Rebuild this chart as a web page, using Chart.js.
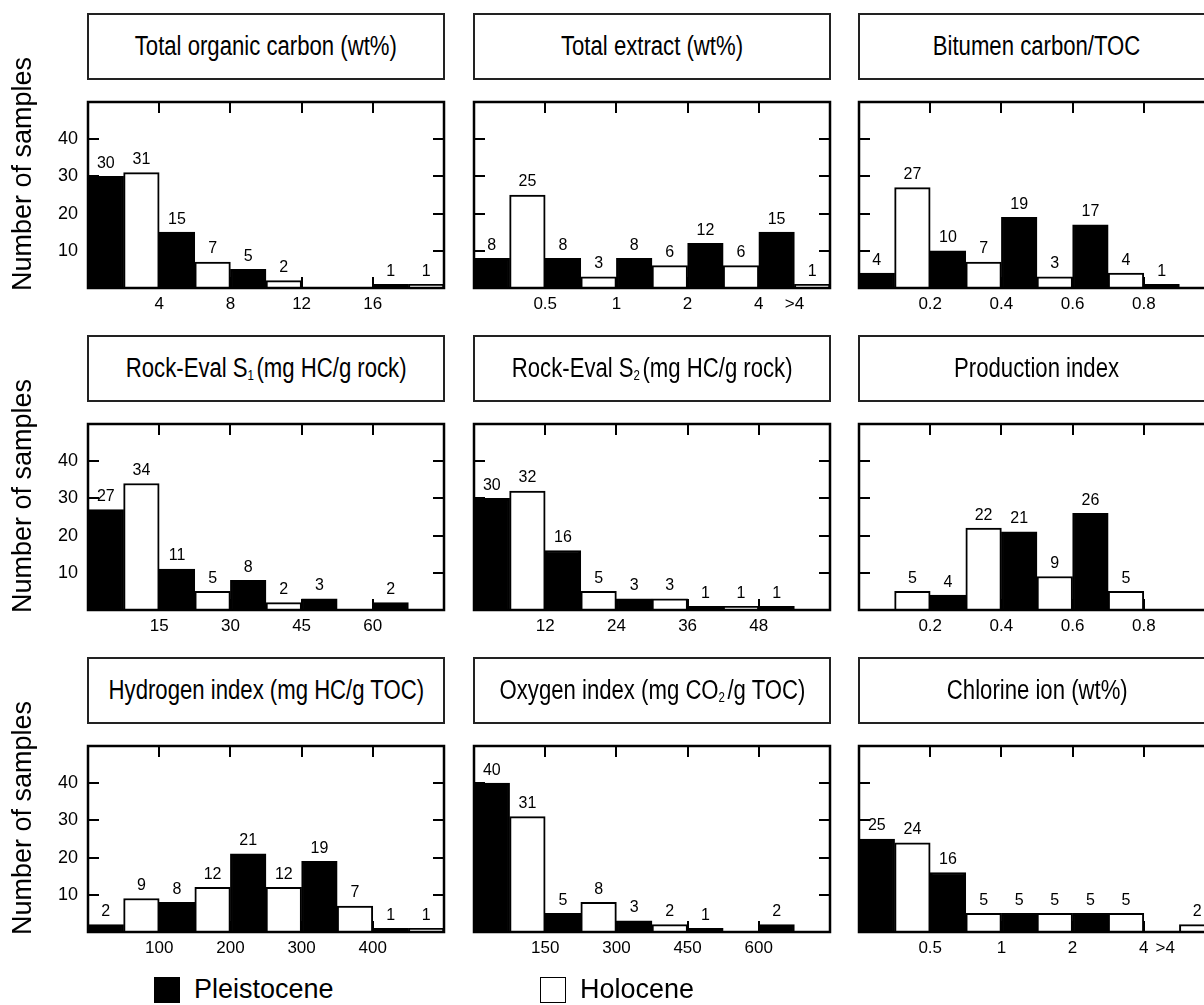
<!DOCTYPE html>
<html>
<head>
<meta charset="utf-8">
<script src="https://cdn.jsdelivr.net/npm/chart.js@4.4.1/dist/chart.umd.min.js"></script>
<style>
  html, body { margin: 0; padding: 0; background: #fff; }
  body { width: 1204px; height: 1005px; overflow: hidden; position: relative; font-family: 'Liberation Sans', Arial, sans-serif; }
  canvas { position: absolute; }
  .title-box {
    position: absolute; box-sizing: border-box; border: 2px solid #222;
    display: flex; align-items: center; justify-content: center;
    font-size: 27px; white-space: nowrap;
  }
  /* no narrow face installed, so squeeze the regular one */
  .title-box span { display: inline-block; transform: scaleX(0.82); }
  .title-box sub { font-size: 14px; vertical-align: -3px; margin-right: 3px; }
  .ylabel {
    position: absolute; font-size: 27px; white-space: nowrap;
    transform: translate(-50%, -50%) rotate(-90deg);
  }
  .legend { position: absolute; top: 974px; display: flex; align-items: center; font-size: 27px; }
  .legend span.box { width: 26px; height: 26px; box-sizing: border-box; border: 1.5px solid #000; margin-right: 14px; }
</style>
</head>
<body>
<script>
// counts per class interval, left bar = Pleistocene, right bar = Holocene
const tocPleistocene = [30, 15, 5, 0, 1];
const tocHolocene = [31, 7, 2, 0, 1];
const tocTicks = ['4', '8', '12', '16'];

const extractPleistocene = [8, 8, 8, 12, 15];
const extractHolocene = [25, 3, 6, 6, 1];
const extractTicks = ['0.5', '1', '2', '4', '>4'];

const bitumenPleistocene = [4, 10, 19, 17, 1];
const bitumenHolocene = [27, 7, 3, 4, 0];
const bitumenTicks = ['0.2', '0.4', '0.6', '0.8'];

const s1Pleistocene = [27, 11, 8, 3, 2];
const s1Holocene = [34, 5, 2, 0, 0];
const s1Ticks = ['15', '30', '45', '60'];

const s2Pleistocene = [30, 16, 3, 1, 1];
const s2Holocene = [32, 5, 3, 1, 0];
const s2Ticks = ['12', '24', '36', '48'];

const piPleistocene = [0, 4, 21, 26, 0];
const piHolocene = [5, 22, 9, 5, 0];
const piTicks = ['0.2', '0.4', '0.6', '0.8'];

const hiPleistocene = [2, 8, 21, 19, 1];
const hiHolocene = [9, 12, 12, 7, 1];
const hiTicks = ['100', '200', '300', '400'];

const oiPleistocene = [40, 5, 3, 1, 2];
const oiHolocene = [31, 8, 2, 0, 0];
const oiTicks = ['150', '300', '450', '600'];

const clPleistocene = [25, 16, 5, 5, 0];
const clHolocene = [24, 5, 5, 5, 2];
const clTicks = ['0.5', '1', '2', '4', '>4'];

const Y_TICKS = [10, 20, 30, 40];
const X_MARKS = [2, 4, 6, 8];   // class boundaries, in bar units

const PANELS = [
    { title: 'Total organic carbon (wt%)', p: tocPleistocene, h: tocHolocene, ticks: tocTicks, pos: [2, 4, 6, 8] },
    { title: 'Total extract (wt%)', p: extractPleistocene, h: extractHolocene, ticks: extractTicks, pos: [2, 4, 6, 8, 9] },
    { title: 'Bitumen carbon/TOC', p: bitumenPleistocene, h: bitumenHolocene, ticks: bitumenTicks, pos: [2, 4, 6, 8] },
    { title: 'Rock-Eval S<sub>1</sub>(mg HC/g rock)', p: s1Pleistocene, h: s1Holocene, ticks: s1Ticks, pos: [2, 4, 6, 8] },
    { title: 'Rock-Eval S<sub>2</sub>(mg HC/g rock)', p: s2Pleistocene, h: s2Holocene, ticks: s2Ticks, pos: [2, 4, 6, 8] },
    { title: 'Production index', p: piPleistocene, h: piHolocene, ticks: piTicks, pos: [2, 4, 6, 8] },
    { title: 'Hydrogen index (mg HC/g TOC)', p: hiPleistocene, h: hiHolocene, ticks: hiTicks, pos: [2, 4, 6, 8] },
    { title: 'Oxygen index (mg CO<sub>2</sub>/g TOC)', p: oiPleistocene, h: oiHolocene, ticks: oiTicks, pos: [2, 4, 6, 8] },
    { title: 'Chlorine ion (wt%)', p: clPleistocene, h: clHolocene, ticks: clTicks, pos: [2, 4, 6, 8, 8.6] },
];

const COL_LEFT = [88, 474, 859];
const ROW_TOP = [102, 424, 746];
const PLOT_W = 356;
const PLOT_H = 186;
const PAD_L = 60, PAD_T = 10, PAD_R = 12, AXIS_H = 40;
const TICK = 11;
const NUM_FONT = 'Liberation Sans';

// frame, inward tick marks and the count above each bar
const framePlugin = {
    id: 'frame',
    afterDatasetsDraw(chart) {
        const { ctx, chartArea: a, scales } = chart;
        const x = scales.x, y = scales.y;
        ctx.save();
        ctx.strokeStyle = '#000';
        ctx.lineWidth = 2;
        ctx.beginPath();
        X_MARKS.forEach((v) => {
            const px = Math.round(x.getPixelForValue(v));
            ctx.moveTo(px, a.top); ctx.lineTo(px, a.top + TICK);
            ctx.moveTo(px, a.bottom); ctx.lineTo(px, a.bottom - TICK);
        });
        Y_TICKS.forEach((v) => {
            const py = Math.round(y.getPixelForValue(v));
            ctx.moveTo(a.left, py); ctx.lineTo(a.left + TICK, py);
            ctx.moveTo(a.right, py); ctx.lineTo(a.right - TICK, py);
        });
        ctx.stroke();
        ctx.lineWidth = 2.5;
        ctx.strokeRect(a.left, a.top, a.right - a.left, a.bottom - a.top);

        ctx.fillStyle = '#000';
        ctx.font = `16px "${NUM_FONT}"`;
        ctx.textAlign = 'center';
        ctx.textBaseline = 'bottom';
        chart.data.datasets.forEach((ds, d) => {
            chart.getDatasetMeta(d).data.forEach((el, i) => {
                const v = ds.data[i].y;
                if (!v) return;
                ctx.fillText(String(v), el.x, el.y - 5);
            });
        });
        ctx.restore();
    },
};

function barData(values, offset) {
    return values.map((v, k) => ({ x: 2 * k + offset, y: v > 0 ? v : null }));
}

function noPadding(s) {
    s.paddingLeft = 0; s.paddingRight = 0; s.paddingTop = 0; s.paddingBottom = 0;
}

PANELS.forEach((panel, n) => {
    const col = n % 3, row = Math.floor(n / 3);

    const box = document.createElement('div');
    box.className = 'title-box';
    box.style.left = (COL_LEFT[col] - 1) + 'px';
    box.style.top = (ROW_TOP[row] - 89) + 'px';
    box.style.width = (PLOT_W + 2) + 'px';
    box.style.height = '67px';
    box.innerHTML = `<span>${panel.title}</span>`;
    document.body.appendChild(box);

    const canvas = document.createElement('canvas');
    canvas.width = PAD_L + PLOT_W + PAD_R;
    canvas.height = PAD_T + PLOT_H + AXIS_H;
    canvas.style.left = (COL_LEFT[col] - PAD_L) + 'px';
    canvas.style.top = (ROW_TOP[row] - PAD_T) + 'px';
    document.body.appendChild(canvas);

    new Chart(canvas, {
        type: 'bar',
        data: {
            datasets: [
                {
                    label: 'Pleistocene',
                    data: barData(panel.p, 0.5),
                    backgroundColor: '#000',
                },
                {
                    label: 'Holocene',
                    data: barData(panel.h, 1.5),
                    backgroundColor: '#fff',
                },
            ],
        },
        options: {
            responsive: false,
            animation: false,
            devicePixelRatio: 1,
            layout: { padding: { top: PAD_T, right: PAD_R, left: 0, bottom: 0 } },
            datasets: {
                bar: {
                    grouped: false,
                    barPercentage: 1,
                    categoryPercentage: 1,
                    borderColor: '#000',
                    borderWidth: 2,
                },
            },
            plugins: { legend: { display: false }, tooltip: { enabled: false } },
            scales: {
                x: {
                    type: 'linear',
                    display: false,
                    offset: false,
                    min: 0,
                    max: 10,
                    ticks: { stepSize: 1 },
                },
                xl: {
                    type: 'linear',
                    position: 'bottom',
                    offset: false,
                    min: 0,
                    max: 10,
                    grid: { display: false, drawTicks: false, offset: false },
                    border: { display: false },
                    afterBuildTicks: (s) => { s.ticks = panel.pos.map((v) => ({ value: v })); },
                    afterFit: (s) => { s.height = AXIS_H; noPadding(s); },
                    ticks: {
                        autoSkip: false,
                        maxRotation: 0,
                        padding: 6,
                        color: '#000',
                        font: { family: NUM_FONT, size: 17 },
                        callback: (v, i) => panel.ticks[i],
                    },
                },
                y: {
                    min: 0,
                    max: 50,
                    grid: { display: false, drawTicks: false },
                    border: { display: false },
                    afterBuildTicks: (s) => { s.ticks = Y_TICKS.map((v) => ({ value: v })); },
                    afterFit: (s) => { s.width = PAD_L; noPadding(s); },
                    ticks: {
                        display: col === 0,
                        padding: 10,
                        color: '#000',
                        font: { family: NUM_FONT, size: 18 },
                    },
                },
            },
        },
        plugins: [framePlugin],
    });
});

[0, 1, 2].forEach((row) => {
    const lab = document.createElement('div');
    lab.className = 'ylabel';
    lab.textContent = 'Number of samples';
    lab.style.left = '22px';
    lab.style.top = (ROW_TOP[row] + 72) + 'px';
    document.body.appendChild(lab);
});

const LEGEND = [
    { label: 'Pleistocene', color: '#000', left: 154 },
    { label: 'Holocene', color: '#fff', left: 540 },
];
LEGEND.forEach((item) => {
    const el = document.createElement('div');
    el.className = 'legend';
    el.style.left = item.left + 'px';
    el.innerHTML = `<span class="box" style="background:${item.color}"></span><span>${item.label}</span>`;
    document.body.appendChild(el);
});
</script>
</body>
</html>
